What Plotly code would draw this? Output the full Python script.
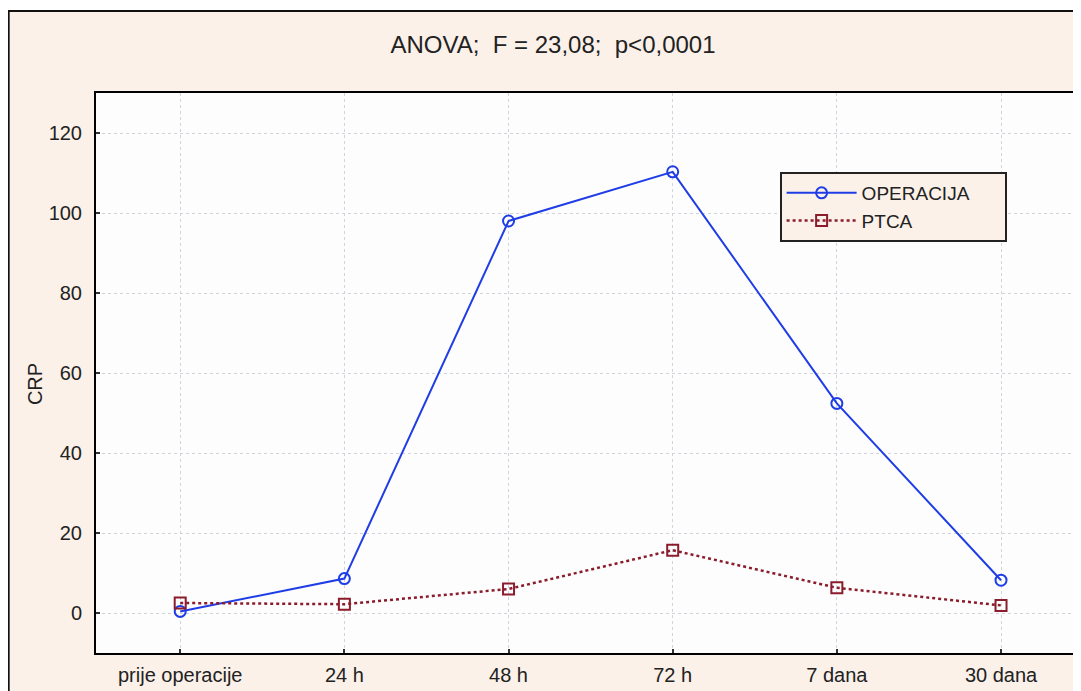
import plotly.graph_objects as go

categories = ["prije operacije", "24 h", "48 h", "72 h", "7 dana", "30 dana"]
operacija = [0.4, 8.6, 98.0, 110.3, 52.4, 8.2]
ptca = [2.5, 2.2, 6.0, 15.7, 6.3, 1.9]
y_ticks = [0, 20, 40, 60, 80, 100, 120]

BEIGE = "#fbf1e9"
BLUE = "#1f3de6"
RED = "#8a1c2c"
FONT = "Liberation Sans, Arial, sans-serif"

# the page body has an 8px margin; figure coordinates = page coordinates - 8
OFF = 8
W, H = 1081 - OFF, 691 - OFF
L, R, T, B = 96 - OFF, 0, 93 - OFF, 691 - 653
pw = W - L - R
ph = H - T - B

def px(x):  # page x -> paper coord
    return (x - OFF - L) / pw

def py(y):  # page y -> paper coord
    return (H - B - (y - OFF)) / ph

fig = go.Figure()
fig.add_trace(go.Scatter(
    x=list(range(len(categories))), y=operacija, name="OPERACIJA\u2003\u2004\u2005",
    mode="lines+markers",
    line=dict(color=BLUE, width=2),
    marker=dict(symbol="circle-open", size=11, color=BLUE, line=dict(width=2, color=BLUE)),
))
fig.add_trace(go.Scatter(
    x=list(range(len(categories))), y=ptca, name="PTCA",
    mode="lines+markers",
    line=dict(color=RED, width=2.5, dash="dot"),
    marker=dict(symbol="square-open", size=11, color=RED, line=dict(width=2, color=RED)),
))

grid = "#cfd3dc"
fig.update_xaxes(
    range=[-0.513, 5.475],
    tickmode="array", tickvals=list(range(len(categories))), ticktext=categories,
    showgrid=True, gridcolor=grid, griddash="dot", gridwidth=1,
    showline=True, linecolor="black", linewidth=2, mirror=True,
    ticks="inside", ticklen=4, tickcolor="#333", tickwidth=2,
    tickfont=dict(family=FONT, size=20, color="#222"),
    zeroline=False, ticklabelstandoff=3,
)
fig.update_yaxes(
    range=[-10, 130],
    tickmode="array", tickvals=y_ticks,
    showgrid=True, gridcolor=grid, griddash="dot", gridwidth=1,
    showline=True, linecolor="black", linewidth=2, mirror=True,
    ticks="inside", ticklen=4, tickcolor="#333", tickwidth=2,
    tickfont=dict(family=FONT, size=20, color="#222"),
    zeroline=False, ticklabelstandoff=8,
)

shapes = [
    # white strip above the outer frame
    dict(type="rect", xref="paper", yref="paper", x0=px(-20), x1=px(1120), y0=py(11), y1=py(-20),
         fillcolor="white", line=dict(width=0), layer="above"),
    # outer frame
    dict(type="line", xref="paper", yref="paper", x0=px(8.5), x1=px(8.5), y0=py(11), y1=py(720),
         line=dict(color="#111", width=2), layer="above"),
    dict(type="line", xref="paper", yref="paper", x0=px(7), x1=px(1120), y0=py(11), y1=py(11),
         line=dict(color="#111", width=2), layer="above"),
]

fig.update_layout(
    width=W, height=H,
    margin=dict(l=L, r=R, t=T, b=B),
    paper_bgcolor=BEIGE, plot_bgcolor="#fdfdfd",
    font=dict(family=FONT, size=20, color="#222"),
    title=dict(text="ANOVA;\u00a0 F = 23,08;\u00a0 p&lt;0,0001", x=(553 - OFF) / W, xref="container",
               xanchor="center", y=1 - (45 - OFF) / H, yref="container", yanchor="middle",
               font=dict(family=FONT, size=24, color="#222")),
    showlegend=True,
    legend=dict(x=px(781), y=py(172), xanchor="left", yanchor="top",
                bgcolor=BEIGE, bordercolor="#222", borderwidth=2,
                font=dict(family=FONT, size=19, color="#222"),
                itemwidth=70, tracegroupgap=0),
    shapes=shapes,
    annotations=[dict(text="CRP", xref="paper", yref="paper", x=px(35), y=py(384),
                      xanchor="center", yanchor="middle",
                      showarrow=False, textangle=-90,
                      font=dict(family=FONT, size=20, color="#222"))],
)

fig.write_html("out.html")
